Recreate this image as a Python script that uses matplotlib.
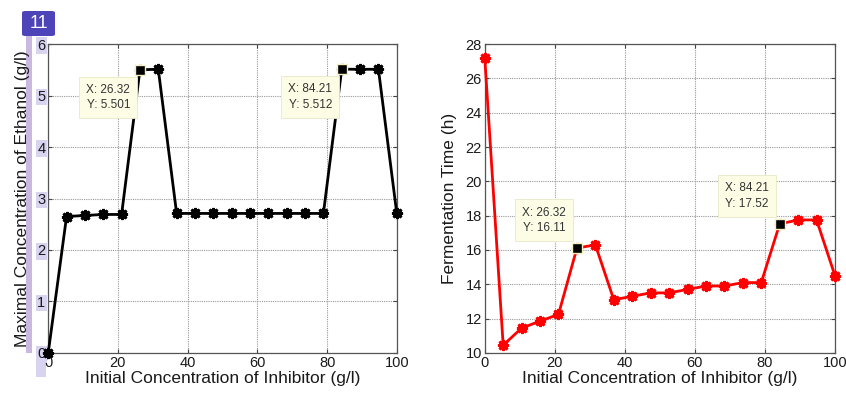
import numpy as np
import matplotlib
matplotlib.use("Agg")
import matplotlib.pyplot as plt
from matplotlib.patches import FancyBboxPatch, Rectangle

plt.rcParams['font.family'] = ['Liberation Sans', 'DejaVu Sans']

inhibitor = [0, 5.26, 10.53, 15.79, 21.05, 26.32, 31.58, 36.84, 42.11, 47.37,
             52.63, 57.89, 63.16, 68.42, 73.68, 78.95, 84.21, 89.47, 94.74, 100]
ethanol = [0, 2.65, 2.67, 2.69, 2.69, 5.501, 5.51, 2.71, 2.71, 2.71,
           2.71, 2.71, 2.71, 2.71, 2.71, 2.71, 5.512, 5.51, 5.51, 2.71]
ferm_time = [27.2, 10.45, 11.45, 11.85, 12.25, 16.11, 16.3, 13.1, 13.3, 13.5,
             13.5, 13.7, 13.9, 13.9, 14.1, 14.1, 17.52, 17.75, 17.75, 14.5]

tips_left = [(26.32, 5.501, "X: 26.32\nY: 5.501"), (84.21, 5.512, "X: 84.21\nY: 5.512")]
tips_right = [(26.32, 16.11, "X: 26.32\nY: 16.11"), (84.21, 17.52, "X: 84.21\nY: 17.52")]

fig = plt.figure(figsize=(8.46, 3.97), dpi=100)
ax1 = fig.add_axes([0.057, 0.111, 0.412, 0.778])
ax2 = fig.add_axes([0.573, 0.111, 0.414, 0.778])

asterisk = (8, 2, 0)


def style(ax):
    ax.grid(True, linestyle=(0, (1, 1)), color='#999999', linewidth=0.8)
    ax.tick_params(direction='in', top=True, right=True, labelsize=10.5,
                   length=3, pad=2, colors='#444444', labelcolor='#1a1a1a')
    for s in ax.spines.values():
        s.set_color('#555555')
        s.set_linewidth(0.9)
    ax.set_xlim(0, 100)
    ax.set_xticks([0, 20, 40, 60, 80, 100])
    ax.set_xlabel('Initial Concentration of Inhibitor (g/l)', fontsize=12.5, labelpad=1, color='#1a1a1a')


# left plot
ax1.plot(inhibitor, ethanol, color='black', lw=2, marker=asterisk, ms=8, mew=2, zorder=3, clip_on=False)
ax1.set_ylim(0, 6)
ax1.set_yticks(range(0, 7))
ax1.set_ylabel('Maximal Concentration of Ethanol (g/l)', fontsize=12.5, labelpad=5, color='#1a1a1a')
style(ax1)
for x, y, t in tips_left:
    ax1.plot(x, y, marker='s', ms=7, color='black', mec='#f5f0c0', mew=1, zorder=5)
    ax1.annotate(t, (x, y), xytext=(-7, -20), textcoords='offset points', ha='right', va='center',
                 fontsize=8.5, color='#333333', linespacing=1.4,
                 bbox=dict(boxstyle='square,pad=0.6', fc='#fdfde6', ec='#e8e8c8', lw=0.6))

# right plot
ax2.plot(inhibitor, ferm_time, color='red', lw=2, marker=asterisk, ms=8, mew=2, zorder=3, clip_on=False)
ax2.set_ylim(10, 28)
ax2.set_yticks(range(10, 29, 2))
ax2.set_ylabel('Fermentation Time (h)', fontsize=12.5, labelpad=6, color='#1a1a1a')
style(ax2)
for x, y, t in tips_right:
    ax2.plot(x, y, marker='s', ms=7, color='black', mec='#f5f0c0', mew=1, zorder=5)
    ax2.annotate(t, (x, y), xytext=(-8, 20), textcoords='offset points', ha='right', va='center',
                 fontsize=8.5, color='#333333', linespacing=1.4,
                 bbox=dict(boxstyle='square,pad=0.6', fc='#fdfde6', ec='#e8e8c8', lw=0.6))

# lavender highlights and the "11" badge
W, H = 846.0, 397.0
fig.patches.append(Rectangle((26 / W, 1 - 353 / H), 6 / W, 317 / H, transform=fig.transFigure,
                             fc='#c9b8e0', ec='none', zorder=-1))
fig.patches.append(Rectangle((36 / W, 1 - 377 / H), 10 / W, 27 / H, transform=fig.transFigure,
                             fc='#d8d4f0', ec='none', zorder=-1))
for lab in ax1.get_yticklabels():
    lab.set_bbox(dict(fc='#d8d4f0', ec='none', pad=0.8))
fig.patches.append(FancyBboxPatch((22 / W, 1 - 36 / H), 33 / W, 25 / H, transform=fig.transFigure,
                                  boxstyle='round,pad=0,rounding_size=0.004',
                                  fc='#4c44b8', ec='none', zorder=5))
fig.text(38.5 / W, 1 - 23.5 / H, '11', color='white', fontsize=13, ha='center', va='center', zorder=6)

fig.savefig('out.png', dpi=100)
